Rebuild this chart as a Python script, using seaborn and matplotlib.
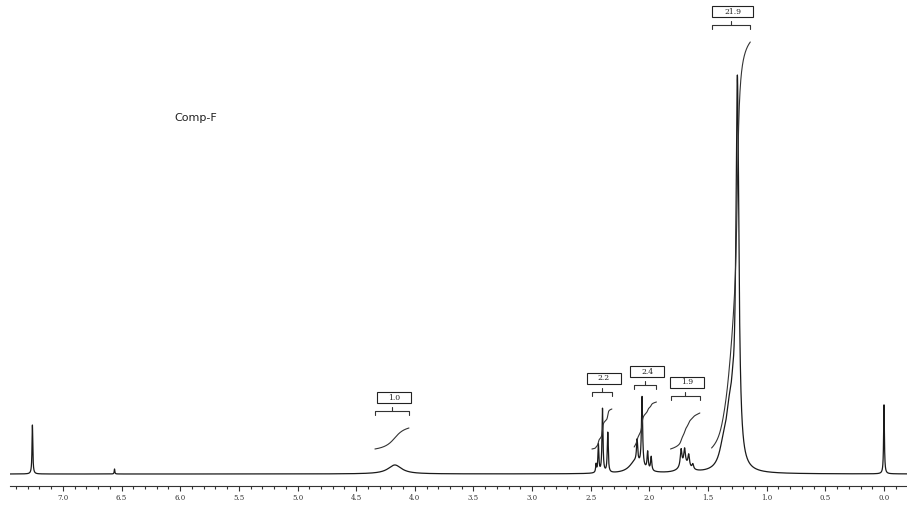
import numpy as np
import pandas as pd
import matplotlib
matplotlib.use('Agg')
import matplotlib.pyplot as plt
import seaborn as sns
from matplotlib.patches import Rectangle
from matplotlib.ticker import MultipleLocator, FuncFormatter

# peak list: shift (ppm), height, half width (ppm)
peak_ppm = [7.26, 6.56, 4.17,
            2.455, 2.435, 2.40, 2.355,
            2.12, 2.105, 2.063, 2.015, 1.985,
            1.73, 1.70, 1.665, 1.63, 1.70,
            1.37, 1.32, 1.29, 1.25,
            0.0]
peak_height = [49, 5, 9,
               8, 28, 64, 40,
               12, 22, 70, 18, 14,
               17, 15, 12, 5, 8,
               18, 45, 30, 382,
               69]
peak_width = [0.004, 0.003, 0.07,
              0.004, 0.005, 0.005, 0.005,
              0.06, 0.006, 0.006, 0.006, 0.006,
              0.008, 0.008, 0.008, 0.008, 0.05,
              0.04, 0.035, 0.02, 0.015,
              0.004]

# integrals: region (ppm), label, curve low/high level
int_from = [4.34, 2.49, 2.13, 1.82, 1.47]
int_to = [4.05, 2.32, 1.94, 1.57, 1.14]
int_label = ['1.0', '2.2', '2.4', '1.9', '21.9']
int_low = [25, 25, 27, 25, 26]
int_high = [46, 65, 72, 61, 432]

sample_name = 'Comp-F'


def spectrum(ppm):
    y = np.zeros_like(ppm)
    for c, h, w in zip(peak_ppm, peak_height, peak_width):
        y += h / (1 + ((ppm - c) / w) ** 2)
    return y


sns.set_style('white')
plt.rcParams['font.family'] = ['DejaVu Sans']

fig = plt.figure(figsize=(9.07, 5.08), dpi=100)
ax = fig.add_axes([10 / 907, 22 / 508, 897 / 907, 486 / 508])

ppm = np.linspace(7.451, -0.196, 24000)
df = pd.DataFrame({'ppm': ppm, 'intensity': spectrum(ppm)})
sns.lineplot(data=df, x='ppm', y='intensity', ax=ax, color='#1a1a1a',
             linewidth=0.9, sort=False, estimator=None)

px = (7.451 + 0.196) / 897  # ppm per pixel
for a, b, lab, lo, hi in zip(int_from, int_to, int_label, int_low, int_high):
    seg = np.linspace(a, b, 400)
    cum = np.cumsum(spectrum(seg))
    cum = (cum - cum[0]) / (cum[-1] - cum[0])
    curve = pd.DataFrame({'ppm': seg, 'level': lo + cum * (hi - lo)})
    sns.lineplot(data=curve, x='ppm', y='level', ax=ax, color='#333333',
                 linewidth=0.8, sort=False, estimator=None)

    # bracket
    yb = hi + 17
    mid = (a + b) / 2
    ax.plot([a, a, b, b], [yb - 4, yb, yb, yb - 4], color='#333333', lw=0.8)
    ax.plot([mid, mid], [yb, yb + 4], color='#333333', lw=0.8)

    # label box
    bw = (41 if len(lab) > 3 else 34) * px
    bx = mid - 2 * px
    ax.add_patch(Rectangle((bx + bw / 2, yb + 8), -bw, 11, fill=False,
                           edgecolor='#222222', lw=0.8))
    ax.text(bx, yb + 13.5, lab, ha='center', va='center', fontsize=5.5,
            family='DejaVu Serif', color='#222222')

ax.text(6.053, 356, sample_name, ha='left', va='center', fontsize=8,
        color='#222222')

ax.set_xlim(7.451, -0.196)
ax.set_ylim(-12, 474)
ax.xaxis.set_major_locator(MultipleLocator(0.5))
ax.xaxis.set_minor_locator(MultipleLocator(0.1))
ax.xaxis.set_major_formatter(FuncFormatter(lambda v, p: '%.1f' % abs(v) if abs(v) < 1e-9 else '%.1f' % v))
ax.tick_params(axis='x', which='major', direction='out', length=3.5, width=0.8,
               color='#333333', labelsize=5, pad=2.5, labelcolor='#333333',
               bottom=True)
ax.tick_params(axis='x', which='minor', direction='out', length=2.2, width=0.8,
               color='#333333', bottom=True)
for lbl in ax.get_xticklabels():
    lbl.set_family('DejaVu Serif')
ax.set_yticks([])
ax.set_xlabel('')
ax.set_ylabel('')
for s in ['left', 'top', 'right']:
    ax.spines[s].set_visible(False)
ax.spines['bottom'].set_linewidth(0.8)
ax.spines['bottom'].set_color('#333333')

fig.savefig('out.png', dpi=100)
